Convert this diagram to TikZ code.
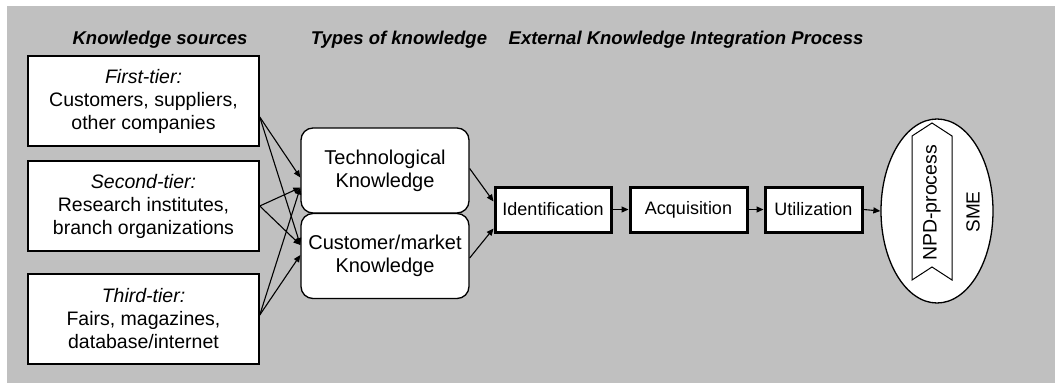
\documentclass[tikz,border=0pt]{standalone}
\usepackage{fontspec}
\setmainfont{Liberation Sans}
\usetikzlibrary{arrows.meta,shapes.geometric}
\definecolor{panel}{HTML}{C0C0C0}
\begin{document}
\begin{tikzpicture}[x=1pt,y=-1pt,
  heading/.style={font=\fontsize{18.5}{20}\selectfont\bfseries\itshape, inner sep=0pt},
  srcbox/.style={draw, fill=white, line width=1.5pt, minimum width=231, minimum height=90,
    align=center, inner sep=0pt, font=\fontsize{19.5}{23}\selectfont},
  kindbox/.style={draw, fill=white, line width=1.3pt, rounded corners=12pt, minimum width=168,
    minimum height=85, align=center, inner sep=0pt, font=\fontsize{20}{23}\selectfont},
  procbox/.style={draw, fill=white, line width=3pt, minimum height=45, inner sep=0pt,
    font=\fontsize{18}{20}\selectfont},
  link/.style={line width=1.1pt, -{Triangle[length=7pt,width=6pt]}},
  vlabel/.style={rotate=90, inner sep=0pt, font=\fontsize{19.5}{22}\selectfont}]

\useasboundingbox (0,0) rectangle (1055,383);
\fill[panel] (7,6) rectangle (1055,383);

% column headings
\node[heading] (h1) at (160,40) {Knowledge sources};
\node[heading] (h2) at (399,40) {Types of knowledge};
\node[heading] (h3) at (686,40) {External Knowledge Integration Process};

% knowledge sources
\node[srcbox] (s1) at (143.5,101) {\textit{First-tier:}\\Customers, suppliers,\\other companies};
\node[srcbox] (s2) at (143.5,206) {\textit{Second-tier:}\\Research institutes,\\branch organizations};
\node[srcbox] (s3) at (143.5,319) {\textit{Third-tier:}\\Fairs, magazines,\\database/internet};

% types of knowledge
\node[kindbox] (tk) at (385,170.5) {Technological\\Knowledge};
\node[kindbox] (ck) at (385,256) {Customer/market\\Knowledge};

% integration process
\node[procbox, minimum width=116] (id) at (553,209.5) {Identification};
\node[procbox, minimum width=117] (aq) at (688.5,209.5) {Acquisition};
\node[procbox, minimum width=97] (ut) at (813.5,209.5) {Utilization};

% SME with its NPD process
\node[ellipse, draw, fill=white, line width=1.3pt, minimum width=112, minimum height=184, inner sep=0pt] (sme) at (937,211) {};
\filldraw[fill=white, line width=1pt] (912,136) -- (932,123) -- (952,136) -- (952,280) -- (932,267) -- (912,280) -- cycle;
\node[vlabel] (npd) at (932,203) {NPD-process};
\node[vlabel, font=\fontsize{19}{22}\selectfont] (smel) at (973,212) {SME};

% attachment points on the boxes
\coordinate (o1) at ([yshift=-16pt]s1.east);
\coordinate (o2) at (s2.east);
\coordinate (o3) at ([yshift=4pt]s3.east);
\coordinate (t1) at ([yshift=-7pt]tk.west);
\coordinate (t2) at ([yshift=-17pt]tk.west);
\coordinate (c1) at ([yshift=11pt]ck.west);
\coordinate (c2) at ([yshift=1pt]ck.west);
\coordinate (te) at ([yshift=2pt]tk.east);
\coordinate (ce) at ([yshift=-2pt]ck.east);
\coordinate (i1) at ([yshift=8pt]id.west);
\coordinate (i2) at ([yshift=-19pt]id.west);

% sources feed both kinds of knowledge
\draw[link] (o1) -- (t1);
\draw[link] (o1) -- (c1);
\draw[link] (o2) -- (t2);
\draw[link] (o2) -- (c1);
\draw[link] (o3) -- (t2);
\draw[link] (o3) -- (c2);

% knowledge into the process chain
\draw[link] (te) -- (i1);
\draw[link] (ce) -- (i2);
\draw[link] (id) -- (aq);
\draw[link] (aq) -- (ut);
\draw[link] (ut.east) -- (sme.west);
\end{tikzpicture}
\end{document}
